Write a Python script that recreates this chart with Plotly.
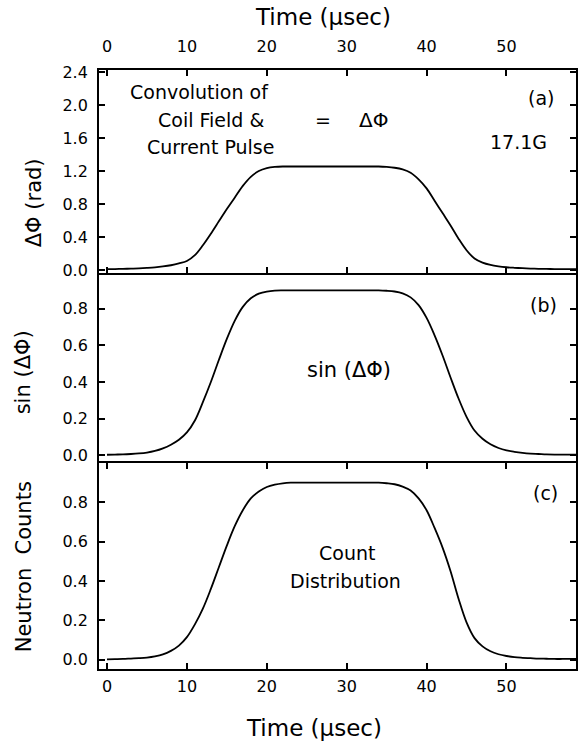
import plotly.graph_objects as go

# ---- data ----
time_us = list(range(0, 60))

delta_phi = [0.010, 0.012, 0.014, 0.017, 0.020, 0.025, 0.032, 0.043, 0.058, 0.080,
             0.110, 0.180, 0.300, 0.440, 0.590, 0.740, 0.880, 1.020, 1.130, 1.200,
             1.235, 1.250, 1.255, 1.255, 1.255, 1.255, 1.255, 1.255, 1.255, 1.255,
             1.255, 1.255, 1.255, 1.255, 1.255, 1.250, 1.240, 1.220, 1.180, 1.100,
             0.990, 0.840, 0.690, 0.540, 0.380, 0.240, 0.140, 0.090, 0.062, 0.045,
             0.034, 0.027, 0.022, 0.018, 0.015, 0.013, 0.012, 0.011, 0.010, 0.010]

sin_delta_phi = [0.003, 0.004, 0.005, 0.007, 0.010, 0.015, 0.024, 0.038, 0.058, 0.085,
                 0.125, 0.190, 0.290, 0.400, 0.520, 0.635, 0.735, 0.810, 0.857, 0.882,
                 0.894, 0.899, 0.900, 0.900, 0.900, 0.900, 0.900, 0.900, 0.900, 0.900,
                 0.900, 0.900, 0.900, 0.900, 0.900, 0.898, 0.894, 0.884, 0.862, 0.820,
                 0.750, 0.655, 0.545, 0.425, 0.310, 0.210, 0.135, 0.090, 0.060, 0.040,
                 0.027, 0.019, 0.013, 0.009, 0.007, 0.005, 0.004, 0.004, 0.004, 0.004]

neutron_counts = [0.002, 0.003, 0.004, 0.006, 0.008, 0.011, 0.017, 0.027, 0.045, 0.072,
                  0.115, 0.180, 0.260, 0.360, 0.470, 0.580, 0.680, 0.760, 0.820, 0.855,
                  0.878, 0.890, 0.897, 0.900, 0.900, 0.900, 0.900, 0.900, 0.900, 0.900,
                  0.900, 0.900, 0.900, 0.900, 0.900, 0.897, 0.892, 0.880, 0.860, 0.820,
                  0.760, 0.670, 0.570, 0.450, 0.310, 0.190, 0.110, 0.068, 0.043, 0.028,
                  0.019, 0.013, 0.010, 0.008, 0.006, 0.005, 0.004, 0.004, 0.004, 0.004]

x_ticks = [0, 10, 20, 30, 40, 50]
y_ticks_a = [0.0, 0.4, 0.8, 1.2, 1.6, 2.0, 2.4]
y_ticks_bc = [0.0, 0.2, 0.4, 0.6, 0.8]

# ---- figure geometry ----
W, H = 579, 746
ML, MR, MT, MB = 99, 1, 70, 77
PW, PH = W - ML - MR, H - MT - MB


def px(xp):
    return (xp - ML) / PW


def py(yp):
    return (H - MB - yp) / PH


FONT = "DejaVu Sans"
line_style = dict(color="black", width=1.8, shape="spline", smoothing=1.0)

fig = go.Figure()
fig.add_trace(go.Scatter(x=time_us, y=delta_phi, mode="lines", line=line_style,
                         xaxis="x", yaxis="y", showlegend=False))
fig.add_trace(go.Scatter(x=time_us, y=sin_delta_phi, mode="lines", line=line_style,
                         xaxis="x2", yaxis="y2", showlegend=False))
fig.add_trace(go.Scatter(x=time_us, y=neutron_counts, mode="lines", line=line_style,
                         xaxis="x3", yaxis="y3", showlegend=False))

xr = [-1.0, 58.7]
axis_common = dict(showline=True, linecolor="black", linewidth=1.8, ticks="inside",
                   ticklen=6, tickwidth=1.5, tickcolor="black", showgrid=False,
                   zeroline=False, tickfont=dict(family=FONT, size=16, color="black"))

dom_c = [py(669), py(463)]
dom_b = [py(463), py(273)]
dom_a = [py(273), py(70)]

fig.update_layout(
    width=W, height=H,
    margin=dict(l=ML, r=MR, t=MT, b=MB, pad=0),
    paper_bgcolor="white", plot_bgcolor="white",
    xaxis=dict(axis_common, range=xr, domain=[0, 1], anchor="y", side="top",
               mirror="ticks", tickvals=x_ticks, ticklabelstandoff=10),
    yaxis=dict(axis_common, range=[-0.036, 2.425], domain=dom_a, anchor="x",
               mirror="ticks", tickvals=y_ticks_a, tickformat=".1f",
               ticklabelstandoff=6),
    xaxis2=dict(axis_common, range=xr, domain=[0, 1], anchor="y2", showline=False,
                ticks="", showticklabels=False),
    yaxis2=dict(axis_common, range=[-0.042, 0.995], domain=dom_b, anchor="x2",
                mirror="ticks", tickvals=y_ticks_bc, tickformat=".1f",
                ticklabelstandoff=6),
    xaxis3=dict(axis_common, range=xr, domain=[0, 1], anchor="y3", mirror="ticks",
                tickvals=x_ticks, ticklabelstandoff=2),
    yaxis3=dict(axis_common, range=[-0.047, 1.0], domain=dom_c, anchor="x3",
                mirror="ticks", tickvals=y_ticks_bc, tickformat=".1f",
                ticklabelstandoff=6),
)


def note(text, xp, yp, size=17, angle=0, xanchor="center"):
    fig.add_annotation(text=text, x=px(xp), y=py(yp), xref="paper", yref="paper",
                       showarrow=False, textangle=angle, xanchor=xanchor,
                       yanchor="middle",
                       font=dict(family=FONT, size=size, color="black"))


# axis titles
note("Time (\u03bcsec)", 324, 17, size=23)
note("Time (\u03bcsec)", 315, 728, size=23)
note("\u0394\u03a6 (rad)", 34, 203, size=21, angle=-90)
note("sin (\u0394\u03a6)", 23, 372, size=21, angle=-90)
note("Neutron  Counts", 24, 567, size=21, angle=-90)

# panel texts
note("Convolution of", 200, 92, size=19)
note("Coil Field &", 211, 120, size=19)
note("Current Pulse", 211, 147, size=19)
note("=", 324, 120, size=19)
note("\u0394\u03a6", 375, 120, size=20)
note("(a)", 543, 98, size=19)
note("17.1G", 520, 142, size=19)
note("(b)", 545, 305, size=19)
note("sin (\u0394\u03a6)", 350, 370, size=21)
note("(c)", 547, 493, size=19)
note("Count", 348, 553, size=19)
note("Distribution", 347, 581, size=19)

fig.write_html("out.html")
